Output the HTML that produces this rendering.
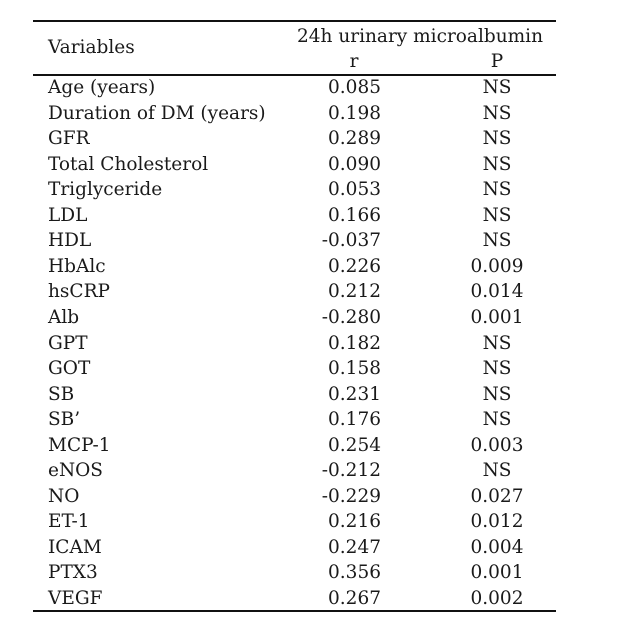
<!DOCTYPE html>
<html><head><style>
body{margin:0;background:#fff;width:640px;height:638px;position:relative;font-family:"DejaVu Serif","Liberation Serif",serif;color:#1a1a1a;font-size:18.5px;}
.l{position:absolute;left:33px;width:523px;background:#111;}
.t{position:absolute;white-space:nowrap;line-height:20px;}
.c{transform:translateX(-50%);}
.r{transform:translateX(-100%);}
</style></head><body>
<div class="l" style="top:20px;height:2px"></div>
<div class="l" style="top:74px;height:2px"></div>
<div class="l" style="top:610px;height:2px"></div>
<div class="t" style="left:48px;top:38px">Variables</div>
<div class="t c" style="left:420px;top:27px">24h urinary microalbumin</div>
<div class="t c" style="left:354px;top:52px">r</div>
<div class="t c" style="left:497px;top:52px">P</div>
<div id="rows"></div>
<script>
var d=[["Age (years)","0.085","NS"],["Duration of DM (years)","0.198","NS"],["GFR","0.289","NS"],["Total Cholesterol","0.090","NS"],["Triglyceride","0.053","NS"],["LDL","0.166","NS"],["HDL","-0.037","NS"],["HbAlc","0.226","0.009"],["hsCRP","0.212","0.014"],["Alb","-0.280","0.001"],["GPT","0.182","NS"],["GOT","0.158","NS"],["SB","0.231","NS"],["SB’","0.176","NS"],["MCP-1","0.254","0.003"],["eNOS","-0.212","NS"],["NO","-0.229","0.027"],["ET-1","0.216","0.012"],["ICAM","0.247","0.004"],["PTX3","0.356","0.001"],["VEGF","0.267","0.002"]];
var h="";d.forEach(function(r,i){var y=78+i*25.55;
h+='<div class="t" style="left:48px;top:'+y+'px">'+r[0]+'</div><div class="t r" style="left:381px;top:'+y+'px">'+r[1]+'</div><div class="t c" style="left:497px;top:'+y+'px">'+r[2]+'</div>';});
document.getElementById("rows").innerHTML=h;
</script>
</body></html>
